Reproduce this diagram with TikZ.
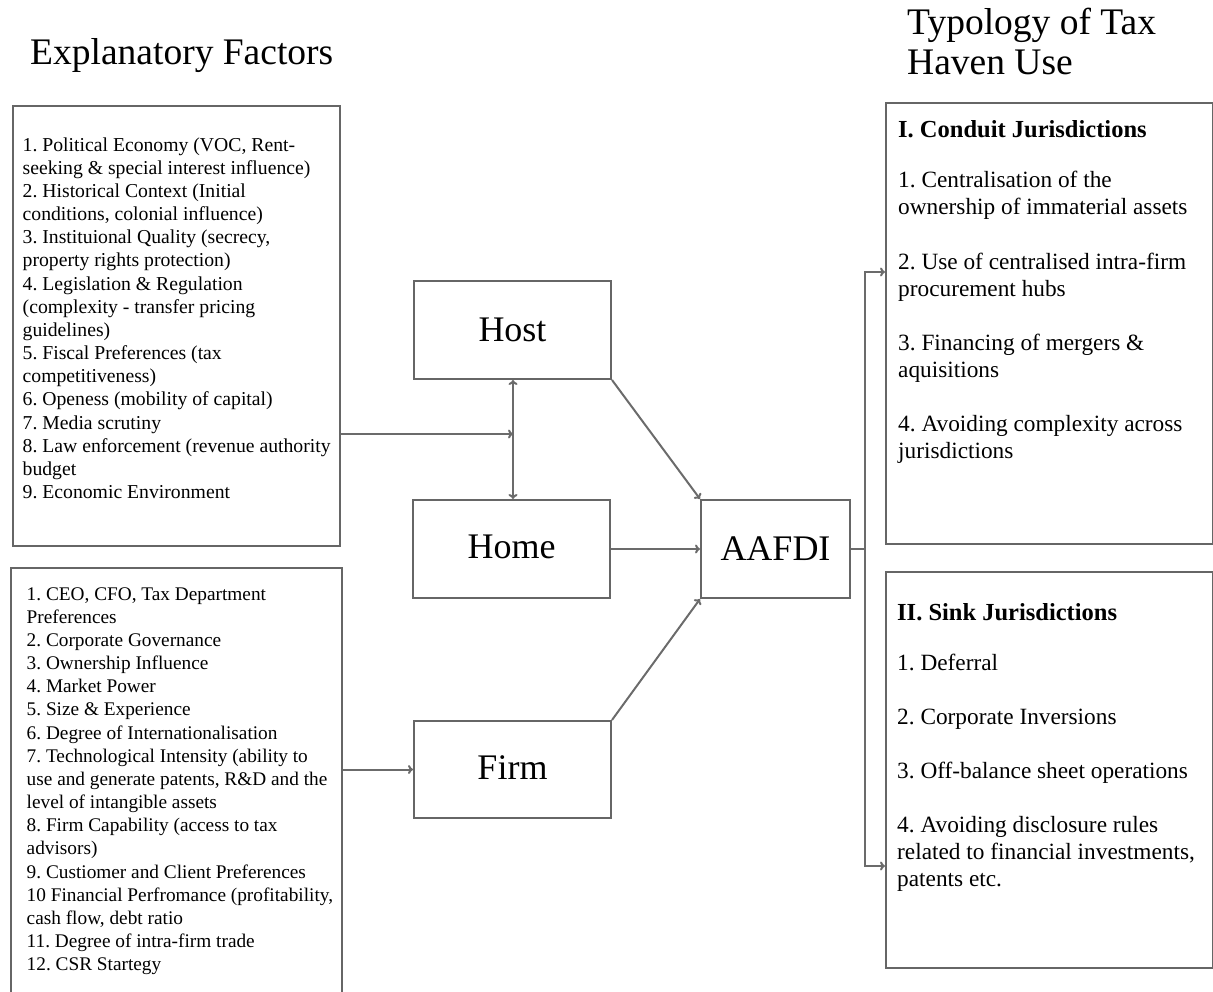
\documentclass[tikz,border=0pt]{standalone}
\usepackage{fontspec}
\setmainfont{Liberation Serif}
\usetikzlibrary{arrows.meta}
\frenchspacing
\tikzset{
  frame/.style={draw=black!60, line width=2pt, inner sep=0pt, anchor=north west},
  conn/.style={draw=black!58, line width=2pt},
  arr/.style={conn, -{To[length=5pt,width=9pt]}},
  darr/.style={conn, {To[length=5pt,width=9pt]}-{To[length=5pt,width=9pt]}},
  bigtxt/.style={font=\fontsize{36}{40}\selectfont},
  titletxt/.style={anchor=base west, inner sep=0pt, font=\fontsize{37.5}{40}\selectfont},
  listtxt/.style={anchor=north west, inner sep=0pt, align=left, font=\fontsize{19.7}{23.15}\selectfont},
  listtxtb/.style={listtxt, font=\fontsize{19.3}{23.15}\selectfont},
  typtxt/.style={anchor=north west, inner sep=0pt, align=left, font=\fontsize{23.3}{27.05}\selectfont},
  typhead/.style={anchor=base west, inner sep=0pt, font=\fontsize{24.5}{27}\selectfont\bfseries},
}
\begin{document}
\begin{tikzpicture}[x=1pt,y=-1pt]
\useasboundingbox (0,0) rectangle (1213,992);
% titles
\node[titletxt] (t1) at (30,65) {Explanatory Factors};
\node[titletxt] (t2) at (907,35) {Typology of Tax};
\node[titletxt] (t3) at (907,75) {Haven Use};
% boxes
\node[frame, minimum width=327, minimum height=440] (lt) at (12,105) {};
\node[frame, minimum width=331, minimum height=445] (lb) at (10,567) {};
\node[frame, bigtxt, minimum width=197, minimum height=98] (host) at (413,280) {Host};
\node[frame, bigtxt, minimum width=197, minimum height=98] (home) at (412,499) {\raisebox{4pt}{Home}};
\node[frame, bigtxt, minimum width=197, minimum height=97] (firm) at (413,720) {\raisebox{3pt}{Firm}};
\node[frame, bigtxt, minimum width=149, minimum height=98] (aafdi) at (700,499) {AAFDI};
\node[frame, minimum width=327, minimum height=441] (rt) at (885,102) {};
\node[frame, minimum width=327, minimum height=396] (rb) at (885,571) {};
% left texts
\node[listtxt] (lttext) at (22.5,135) {\rule{0pt}{16pt}1. Political Economy (VOC, Rent-\\
seeking \& special interest influence)\\
2. Historical Context (Initial\\
conditions, colonial influence)\\
3. Instituional Quality (secrecy,\\
property rights protection)\\
4. Legislation \& Regulation\\
(complexity - transfer pricing\\
guidelines)\\
5. Fiscal Preferences (tax\\
competitiveness)\\
6. Openess (mobility of capital)\\
7. Media scrutiny\\
8. Law enforcement (revenue authority\\
budget\\
9. Economic Environment};
\node[listtxtb] (lbtext) at (26.5,584) {\rule{0pt}{16pt}1. CEO, CFO, Tax Department\\
Preferences\\
2. Corporate Governance\\
3. Ownership Influence\\
4. Market Power\\
5. Size \& Experience\\
6. Degree of Internationalisation\\
7. Technological Intensity (ability to\\
use and generate patents, R\&D and the\\
level of intangible assets\\
8. Firm Capability (access to tax\\
advisors)\\
9. Custiomer and Client Preferences\\
10 Financial Perfromance (profitability,\\
cash flow, debt ratio\\
11. Degree of intra-firm trade\\
12. CSR Startegy};
% right texts
\node[typhead] (rthead) at (898,137.7) {I. Conduit Jurisdictions};
\node[typtxt] (rttext) at (898,169.2) {\rule{0pt}{18.5pt}1. Centralisation of the\\
ownership of immaterial assets\\[27.05pt]
2. Use of centralised intra-firm\\
procurement hubs\\[27.05pt]
3. Financing of mergers \&\\
aquisitions\\[27.05pt]
4. Avoiding complexity across\\
jurisdictions};
\node[typhead] (rbhead) at (897,620) {II. Sink Jurisdictions};
\node[typtxt] (rbtext) at (897,651.5) {\rule{0pt}{18.5pt}1. Deferral\\[27.1pt]
2. Corporate Inversions\\[27.1pt]
3. Off-balance sheet operations\\[27.1pt]
4. Avoiding disclosure rules\\
related to financial investments,\\
patents etc.};
% connectors
\coordinate (hv) at (513,434);
\draw[darr] (host.south -| hv) -- (home.north -| hv);
\draw[arr] (lt.east |- hv) -- (hv);
\draw[arr] (host.south east) -- (aafdi.north west);
\draw[arr] (home.east) -- (aafdi.west);
\draw[arr] (firm.north east) -- (aafdi.south west);
\draw[arr] (lb.east |- firm.west) -- (firm.west);
\coordinate (sp) at (865,548);
\coordinate (rtin) at (885,272);
\coordinate (rbin) at (885,866);
\draw[conn] (aafdi.east) -- (aafdi.east -| sp);
\draw[arr] (aafdi.east -| sp) |- (rtin);
\draw[arr] (aafdi.east -| sp) |- (rbin);
\end{tikzpicture}
\end{document}
